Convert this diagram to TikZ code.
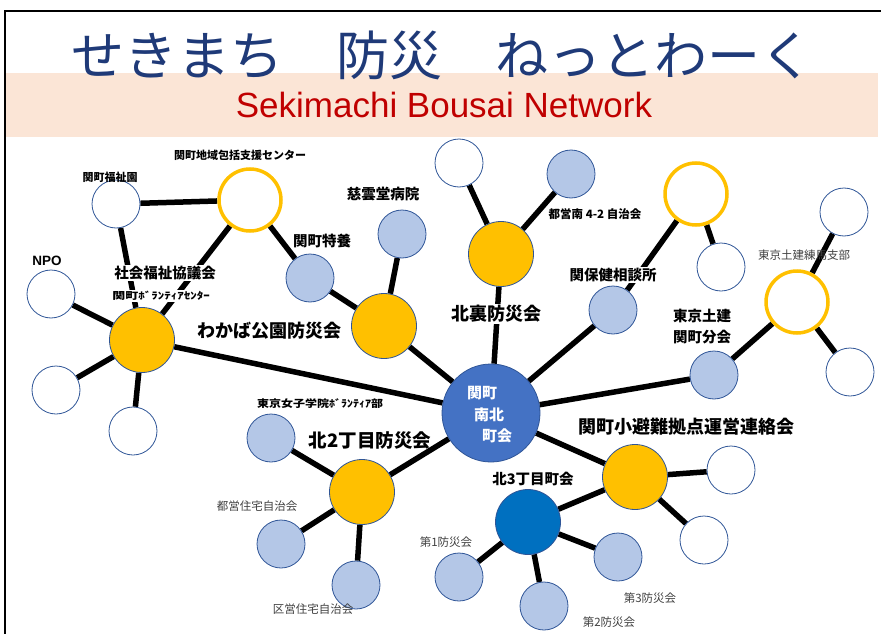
\documentclass[tikz,border=0pt]{standalone}
\usepackage{fontspec}
\setmainfont{Liberation Sans}
\newfontfamily\jp{Noto Sans CJK JP}
\usetikzlibrary{backgrounds}
\definecolor{hubor}{HTML}{FFC000}
\definecolor{lblue}{HTML}{B4C7E7}
\definecolor{bord}{HTML}{2F5597}
\definecolor{cblue}{HTML}{4472C4}
\definecolor{dblue}{HTML}{0070C0}
\definecolor{pinkband}{HTML}{FBE5D6}
\definecolor{titleblue}{HTML}{1F3A78}
\definecolor{subred}{HTML}{C00000}
\definecolor{txtgray}{HTML}{404040}
\tikzset{
  hubc/.style={circle, draw=bord, line width=0.8pt, fill=hubor, minimum size=65pt, inner sep=0pt},
  kitac/.style={circle, draw=bord, line width=0.8pt, fill=dblue, minimum size=65pt, inner sep=0pt},
  lbc/.style={circle, draw=bord, line width=0.8pt, fill=lblue, minimum size=48pt, inner sep=0pt},
  whc/.style={circle, draw=bord, line width=0.8pt, fill=white, minimum size=48pt, inner sep=0pt},
  ringc/.style={circle, draw=hubor, line width=3.5pt, fill=white, minimum size=62pt, inner sep=0pt},
  cenc/.style={circle, draw=bord, line width=0.8pt, fill=cblue, minimum size=98pt, inner sep=0pt},
  link/.style={line width=5.5pt, black},
  biglab/.style={font=\jp\bfseries\fontsize{18}{20}\selectfont, inner sep=1pt},
  midlab/.style={font=\jp\bfseries\fontsize{14.5}{17}\selectfont, inner sep=1pt},
  smllab/.style={font=\jp\bfseries\fontsize{11}{12}\selectfont, inner sep=1pt},
  thinlab/.style={font=\jp\fontsize{11.5}{13}\selectfont, text=txtgray, inner sep=1pt},
  cenlab/.style={font=\jp\bfseries\fontsize{15}{17}\selectfont, text=white, inner sep=0pt},
  occ/.style={fill=white},
}
\begin{document}
\begin{tikzpicture}[x=1pt,y=-1pt]
\useasboundingbox (0,0) rectangle (881,634);
% frame and title band
\fill[pinkband] (6,73) rectangle (878,137);
\coordinate (fbl) at (5,634);
\coordinate (ftl) at (5,11);
\coordinate (ftr) at (881,11);
\draw[line width=1.8pt, black] (fbl) -- (ftl) -- (ftr);
\node[font=\jp\fontsize{53}{60}\selectfont, text=titleblue, inner sep=0pt] (title) at (442,55) {せきまち　防災　ねっとわーく};
\node[font=\fontsize{35}{40}\selectfont, text=subred, inner sep=0pt] (subtitle) at (444,105) {Sekimachi Bousai Network};

% nodes
\node[cenc] (cen) at (491,413) {};
% left cluster
\node[hubc] (shakyo) at (142,340) {};
\node[whc] (npo) at (51,294) {};
\node[whc] (wl2) at (56,390) {};
\node[whc] (wl3) at (133,431) {};
\node[whc] (fukushi) at (116,204) {};
\node[ringc] (houkatsu) at (250,200) {};
\node[lbc] (tokuyo) at (310,278) {};
\node[hubc] (wakaba) at (384,326) {};
\node[lbc] (jiun) at (402,234) {};
% top cluster
\node[hubc] (kitaura) at (501,254) {};
\node[whc] (wt1) at (459,163) {};
\node[lbc] (toei42) at (571,174) {};
% right
\node[lbc] (hoken) at (613,310) {};
\node[ringc] (ring2) at (696,194) {};
\node[whc] (wr2) at (721,267) {};
\node[lbc] (doken) at (714,375) {};
\node[ringc] (nerima) at (797,302) {};
\node[whc] (wr3) at (844,212) {};
\node[whc] (wr4) at (850,372) {};
% bottom right
\node[hubc] (hinan) at (635,477) {};
\node[whc] (wb1) at (731,470) {};
\node[whc] (wb2) at (704,540) {};
\node[kitac] (kita3) at (528,522) {};
\node[lbc] (bo1) at (459,577) {};
\node[lbc] (bo2) at (544,606) {};
\node[lbc] (bo3) at (618,557) {};
% bottom left
\node[hubc] (kita2) at (362,492) {};
\node[lbc] (joshi) at (271,438) {};
\node[lbc] (toeiju) at (281,544) {};
\node[lbc] (kueiju) at (356,585) {};

% connectors
\begin{scope}[on background layer]
\draw[link] (fukushi) -- (houkatsu);
\draw[link] (fukushi) -- (shakyo);
\draw[link] (houkatsu) -- (shakyo);
\draw[link] (houkatsu) -- (tokuyo);
\draw[link] (tokuyo) -- (wakaba);
\draw[link] (jiun) -- (wakaba);
\draw[link] (wakaba) -- (cen);
\draw[link] (shakyo) -- (cen);
\draw[link] (shakyo) -- (npo);
\draw[link] (shakyo) -- (wl2);
\draw[link] (shakyo) -- (wl3);
\draw[link] (kitaura) -- (wt1);
\draw[link] (kitaura) -- (toei42);
\draw[link] (kitaura) -- (cen);
\draw[link] (hoken) -- (ring2);
\draw[link] (ring2) -- (wr2);
\draw[link] (hoken) -- (cen);
\draw[link] (doken) -- (cen);
\draw[link] (doken) -- (nerima);
\draw[link] (nerima) -- (wr3);
\draw[link] (nerima) -- (wr4);
\draw[link] (cen) -- (hinan);
\draw[link] (hinan) -- (wb1);
\draw[link] (hinan) -- (wb2);
\draw[link] (hinan) -- (kita3);
\draw[link] (kita3) -- (bo1);
\draw[link] (kita3) -- (bo2);
\draw[link] (kita3) -- (bo3);
\draw[link] (cen) -- (kita2);
\draw[link] (kita2) -- (joshi);
\draw[link] (kita2) -- (toeiju);
\draw[link] (kita2) -- (kueiju);
\end{scope}

% labels
\node[cenlab] (c1) at (482,393) {関町};
\node[cenlab] (c2) at (489,415) {南北};
\node[cenlab] (c3) at (497,436) {町会};

\node[smllab] (l-houkatsu) at (240,155) {関町地域包括支援センター};
\node[smllab] (l-fukushi) at (110,177) {関町福祉園};
\node[font=\bfseries\fontsize{13.5}{15}\selectfont, inner sep=1pt] (l-npo) at (47,261) {NPO};
\node[midlab, occ] (l-shakyo) at (165,273) {社会福祉協議会};
\node[font=\jp\bfseries\fontsize{13}{14}\selectfont, inner sep=1pt, occ] (l-vol) at (161,296) {\scalebox{1}[0.75]{関町ﾎﾞﾗﾝﾃｨｱｾﾝﾀｰ}};
\node[biglab] (l-wakaba) at (269,331) {わかば公園防災会};
\node[midlab] (l-tokuyo) at (322,241) {関町特養};
\node[midlab] (l-jiun) at (383,194) {慈雲堂病院};
\node[biglab, occ] (l-kitaura) at (496,314) {北裏防災会};
\node[smllab, font=\jp\bfseries\fontsize{11.5}{12}\selectfont] (l-toei42) at (595,214) {都営南 4-2 自治会};
\node[midlab, occ] (l-hoken) at (613,275) {関保健相談所};
\node[midlab, align=left, font=\jp\bfseries\fontsize{14.5}{21}\selectfont] (l-doken) at (702,327) {東京土建\\関町分会};
\node[thinlab] (l-nerima) at (804,255) {東京土建練馬支部};
\node[biglab] (l-hinan) at (686,427) {関町小避難拠点運営連絡会};
\node[midlab] (l-kita3) at (533,479) {北3丁目町会};
\node[thinlab] (l-bo1) at (446,542) {第1防災会};
\node[thinlab] (l-bo2) at (609,622) {第2防災会};
\node[thinlab] (l-bo3) at (650,598) {第3防災会};
\node[biglab, font=\jp\bfseries\fontsize{18.5}{20}\selectfont] (l-kita2) at (370,441) {北2丁目防災会};
\node[font=\jp\bfseries\fontsize{12}{13}\selectfont, inner sep=1pt] (l-joshi) at (320,404) {\scalebox{1}[0.85]{東京女子学院ﾎﾞﾗﾝﾃｨｱ部}};
\node[thinlab] (l-toeiju) at (257,506) {都営住宅自治会};
\node[thinlab] (l-kueiju) at (313,609) {区営住宅自治会};
\end{tikzpicture}
\end{document}
